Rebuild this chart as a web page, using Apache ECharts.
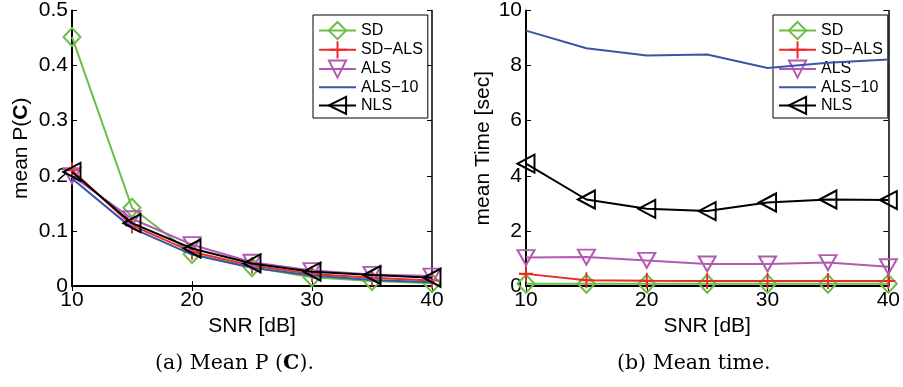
<!DOCTYPE html>
<html><head><meta charset="utf-8">
<script src="https://cdn.jsdelivr.net/npm/echarts@6/dist/echarts.min.js"></script>
<style>html,body{margin:0;padding:0;background:#fff}#c{width:903px;height:387px}</style>
</head><body><div id="c"></div>
<script>
var snr = [10, 15, 20, 25, 30, 35, 40];
var seriesNames = ['SD', 'SD\u2212ALS', 'ALS', 'ALS\u221210', 'NLS'];
// mean P(C)
var pcSD     = [0.452, 0.142, 0.058, 0.034, 0.016, 0.009, 0.005];
var pcSDALS  = [0.210, 0.110, 0.062, 0.037, 0.022, 0.015, 0.010];
var pcALS    = [0.200, 0.122, 0.075, 0.043, 0.028, 0.021, 0.018];
var pcALS10  = [0.195, 0.105, 0.057, 0.033, 0.019, 0.011, 0.007];
var pcNLS    = [0.207, 0.114, 0.068, 0.041, 0.026, 0.020, 0.015];
// mean time [sec]
var tSD      = [0.08, 0.08, 0.08, 0.08, 0.08, 0.08, 0.08];
var tSDALS   = [0.44, 0.21, 0.19, 0.18, 0.18, 0.18, 0.18];
var tALS     = [1.03, 1.05, 0.93, 0.80, 0.80, 0.85, 0.70];
var tALS10   = [9.27, 8.63, 8.37, 8.40, 7.91, 8.10, 8.22];
var tNLS     = [4.44, 3.14, 2.80, 2.72, 3.03, 3.14, 3.12];
var yTicksLeft = [0, 0.1, 0.2, 0.3, 0.4, 0.5];
var yTicksRight = [0, 2, 4, 6, 8, 10];

var colors = ['#6cbd45', '#ee2a2a', '#b25ab2', '#3a55a8', '#000000'];
var symbols = [
  'path://M0,-1L1,0L0,1L-1,0Z',
  'path://M0,-1L0,1M-1,0L1,0',
  'path://M-1,-0.85L1,-0.85L0,0.9Z',
  'none',
  'path://M-0.85,0L0.9,-1L0.9,1Z'
];
var symSizes = [[17, 18], [14, 16], [17, 15], 1, [17, 18]];
var FONT = '"Liberation Sans", Arial, sans-serif';
var SERIF = '"DejaVu Serif", "Liberation Serif", serif';

function pairs(vals) { return snr.map(function (x, i) { return [x, vals[i]]; }); }

var leftData = [pcSD, pcSDALS, pcALS, pcALS10, pcNLS];
var rightData = [tSD, tSDALS, tALS, tALS10, tNLS];

var series = [];
[leftData, rightData].forEach(function (set, g) {
  set.forEach(function (vals, i) {
    series.push({
      name: seriesNames[i], type: 'line',
      xAxisIndex: g * 2, yAxisIndex: g * 2,
      data: pairs(vals),
      symbol: symbols[i], symbolSize: symSizes[i],
      showSymbol: i !== 3,
      lineStyle: { color: colors[i], width: 2 },
      itemStyle: { color: 'rgba(0,0,0,0)', borderColor: colors[i], borderWidth: 2 },
      emphasis: { disabled: true },
      animation: false, z: 2 + i
    });
  });
});

function xAx(grid, top) {
  return {
    type: 'value', gridIndex: grid, min: 10, max: 40, interval: 10,
    position: top ? 'top' : 'bottom',
    axisLine: { lineStyle: { color: '#000', width: top ? 1.5 : 2 } },
    axisTick: { inside: true, length: 5, lineStyle: { color: '#000', width: 1 } },
    axisLabel: { show: !top, color: '#000', fontSize: 21, fontFamily: FONT, margin: 4 },
    splitLine: { show: false },
    name: top ? '' : 'SNR [dB]', nameLocation: 'middle', nameGap: 30,
    nameTextStyle: { color: '#000', fontSize: 21, fontFamily: FONT }
  };
}
function yAx(grid, right, max, interval, name, gap) {
  return {
    type: 'value', gridIndex: grid, min: 0, max: max, interval: interval,
    position: right ? 'right' : 'left',
    axisLine: { show: true, lineStyle: { color: '#000', width: right ? 1.5 : 2 } },
    axisTick: { show: true, inside: true, length: 5, lineStyle: { color: '#000', width: 1 } },
    axisLabel: { show: !right, color: '#000', fontSize: 21, fontFamily: FONT, margin: 4 },
    splitLine: { show: false },
    name: right ? '' : name, nameLocation: 'middle', nameGap: gap, nameRotate: 90,
    nameTextStyle: { color: '#000', fontSize: 21, fontFamily: FONT,
      rich: { b: { fontWeight: 'bold', fontSize: 21, fontFamily: FONT, color: '#000' } } }
  };
}

var legendItems = seriesNames.map(function (n, i) {
  return i === 3 ? { name: n, itemStyle: { color: 'rgba(0,0,0,0)', borderWidth: 0, opacity: 0 } } : { name: n };
});

function legend(left) {
  return {
    data: legendItems, left: left, top: 15, orient: 'vertical',
    backgroundColor: '#fff', borderColor: '#000', borderWidth: 1,
    padding: [6, 5, 3, 5], itemWidth: 37, itemHeight: 21.5, itemGap: 0, itemTextGap: 4,
    textStyle: { color: '#000', fontSize: 16, fontFamily: FONT },
    selectedMode: false
  };
}

var option = {
  animation: false,
  backgroundColor: '#fff',
  grid: [
    { left: 72, right: 471, top: 10, bottom: 101 },
    { left: 526, right: 11, top: 10, bottom: 101 }
  ],
  xAxis: [xAx(0, false), xAx(0, true), xAx(1, false), xAx(1, true)],
  yAxis: [
    yAx(0, false, yTicksLeft[yTicksLeft.length - 1], yTicksLeft[1] - yTicksLeft[0], 'mean P({b|C})', 40),
    yAx(0, true, 0.5, 0.1, '', 0),
    yAx(1, false, yTicksRight[yTicksRight.length - 1], yTicksRight[1] - yTicksRight[0], 'mean Time [sec]', 32),
    yAx(1, true, 10, 2, '', 0)
  ],
  legend: [legend(313), legend(773)],
  series: series,
  graphic: [
    { type: 'text', left: 155, top: 353, style: { text: '(a) Mean P ({b|C}).', fontSize: 20.5,
      fontFamily: SERIF, fill: '#000',
      rich: { b: { fontWeight: 'bold', fontSize: 20.5, fontFamily: SERIF } } } },
    { type: 'text', left: 617, top: 353, style: { text: '(b) Mean time.', fontSize: 20.5,
      fontFamily: SERIF, fill: '#000' } }
  ]
};
var chart = echarts.init(document.getElementById('c'), null, { renderer: 'canvas' });
chart.setOption(option);
</script></body></html>
